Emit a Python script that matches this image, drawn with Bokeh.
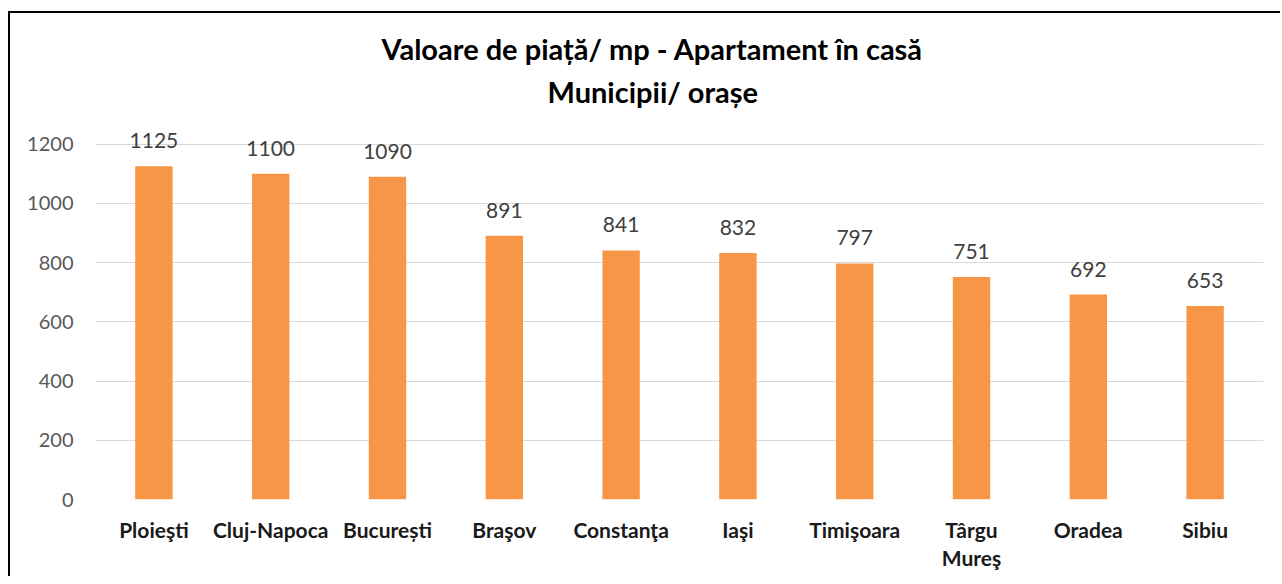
from bokeh.plotting import figure
from bokeh.models import ColumnDataSource, LabelSet, Title, FixedTicker, LinearAxis
from bokeh.core.properties import value
from bokeh.embed import file_html
from bokeh.resources import INLINE

cities = ["Ploieşti", "Cluj-Napoca", "București", "Braşov", "Constanţa",
          "Iaşi", "Timişoara", "Târgu Mureş", "Oradea", "Sibiu"]
values = [1125, 1100, 1090, 891, 841, 832, 797, 751, 692, 653]
y_ticks = [0, 200, 400, 600, 800, 1000, 1200]
title_lines = ["Valoare de piață/ mp - Apartament în casă", "Municipii/ orașe"]

FONT = "Lato"

idx = list(range(len(cities)))
src = ColumnDataSource(dict(x=idx, value=values,
                            label=[str(v) for v in values]))

p = figure(x_range=(-0.5, len(cities) - 0.5), y_range=(0, 1300),
           width=1272, height=565,
           output_backend="svg", toolbar_location=None,
           min_border_left=85, min_border_right=19,
           min_border_top=101, min_border_bottom=79)
p.styles = {"border-top": "2px solid black", "border-left": "2px solid black",
            "margin-top": "11px", "margin-left": "8px"}
p.title = None
p.outline_line_color = None
p.background_fill_color = "white"
p.border_fill_color = "white"

p.vbar(x="x", top="value", width=0.32, source=src,
       fill_color="#F79646", line_color=None)

labels = LabelSet(x="x", y="value", text="label", source=src,
                  text_align="center", text_baseline="alphabetic",
                  y_offset=18, text_font=value(FONT), text_font_size=value("21px"),
                  text_color=value("#404040"))
p.add_layout(labels)

p.yaxis.ticker = FixedTicker(ticks=y_ticks)
p.yaxis.axis_line_color = None
p.yaxis.major_tick_line_color = None
p.yaxis.minor_tick_line_color = None
p.yaxis.major_label_standoff = 16
p.yaxis.major_label_text_font = FONT
p.yaxis.major_label_text_font_size = "20px"
p.yaxis.major_label_text_color = "#595959"

# category labels, wrapped over two lines where Excel wrapped them
first_line = {i: c.split(" ")[0] for i, c in zip(idx, cities)}
second_line = {i: " ".join(c.split(" ")[1:]) for i, c in zip(idx, cities)}

ax2 = LinearAxis()
p.add_layout(ax2, "below")

for ax, standoff, ov in [(p.xaxis[0], 11, first_line), (ax2, -6, second_line)]:
    ax.ticker = FixedTicker(ticks=idx)
    ax.axis_line_color = None
    ax.major_tick_line_color = None
    ax.minor_tick_line_color = None
    ax.major_label_standoff = standoff
    ax.major_label_text_font = FONT
    ax.major_label_text_font_size = "21px"
    ax.major_label_text_font_style = "bold"
    ax.major_label_text_color = "#1a1a1a"
    ax.major_label_overrides = ov

p.xgrid.grid_line_color = None
p.ygrid.grid_line_color = "#D9D9D9"
p.ygrid.grid_line_width = 1
p.ygrid.ticker = FixedTicker(ticks=y_ticks)

# titles: the one added first sits closest to the plot
p.add_layout(Title(text=title_lines[1], align="left", offset=452, standoff=12,
                   text_font=FONT, text_font_size="29px", text_font_style="bold",
                   text_color="#000000"), "above")
p.add_layout(Title(text=title_lines[0], align="left", offset=286, standoff=0,
                   text_font=FONT, text_font_size="29px", text_font_style="bold",
                   text_color="#000000"), "above")

open("out.html", "w").write(file_html(p, INLINE))
